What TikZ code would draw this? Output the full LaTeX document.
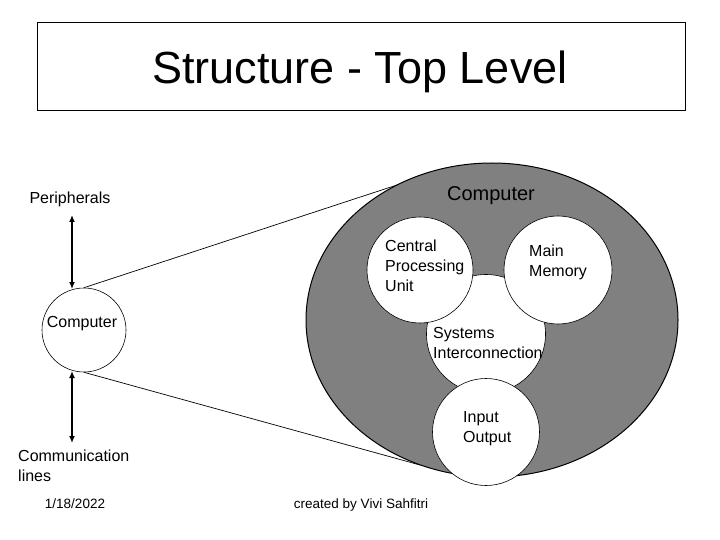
\documentclass[tikz,border=0pt]{standalone}
\usepackage{fontspec}
\setmainfont{Liberation Sans}
\usetikzlibrary{arrows.meta,shapes.geometric}
\tikzset{
  lbl/.style={inner sep=0pt, font=\fontsize{16}{20}\selectfont, align=left},
  wcirc/.style={circle, draw=black, fill=white, inner sep=0pt, line width=0.6pt},
  conn/.style={draw=black, line width=0.7pt},
  biarrow/.style={line width=2pt, {Latex[length=7pt,width=6pt]}-{Latex[length=7pt,width=6pt]}}
}
\begin{document}
\begin{tikzpicture}[x=1pt,y=-1pt]
\useasboundingbox (0,0) rectangle (720,540);
% title
\node[draw=black, line width=0.7pt, minimum width=648pt, minimum height=88pt, inner sep=0pt] (title) at (361,66) {};
\node[inner sep=0pt, anchor=base, font=\fontsize{45}{50}\selectfont] (titlet) at (360,84) {Structure - Top Level};
% connector lines
\node[wcirc, minimum size=84pt] (scomp) at (84,330) {};
\coordinate (ut) at (400,184);
\coordinate (lt) at (420,465);
\draw[conn] (scomp.north) -- (ut);
\draw[conn] (scomp.south) -- (lt);
% big computer
\node[ellipse, draw=black, fill=black!50, minimum width=372pt, minimum height=314pt, inner sep=0pt, line width=1pt] (big) at (492,320) {};
\node[wcirc, minimum size=119pt] (si) at (486,334) {};
\node[wcirc, minimum size=106pt] (cpu) at (420,270) {};
\node[wcirc, minimum size=108pt] (mm) at (558,270) {};
\node[wcirc, minimum size=107pt] (io) at (486,432) {};
% texts
\node[lbl, anchor=base, font=\fontsize{20}{24}\selectfont] (bigt) at (491,201) {Computer};
\node[lbl, anchor=west] (cput) at (385,266) {Central\\Processing\\Unit};
\node[lbl, anchor=west] (mmt) at (529,262) {Main\\Memory};
\node[lbl, anchor=west] (sit) at (433,343) {Systems\\Interconnection};
\node[lbl, anchor=west] (iot) at (463,429) {Input\\Output};
\node[lbl] (pert) at (70,199) {Peripherals};
\node[lbl] (scompt) at (82,324) {Computer};
\node[lbl, anchor=west] (comt) at (18,466) {Communication\\lines};
\node[lbl, anchor=base, font=\fontsize{13.5}{16}\selectfont] (date) at (75,508) {1/18/2022};
\node[lbl, anchor=base, font=\fontsize{13.5}{16}\selectfont] (cred) at (361,508) {created by Vivi Sahfitri};
% arrows
\coordinate (a1) at (72,215);
\coordinate (a2) at (72,289);
\coordinate (a3) at (72,371);
\coordinate (a4) at (72,443);
\draw[biarrow] (a1) -- (a2);
\draw[biarrow] (a3) -- (a4);
\end{tikzpicture}
\end{document}
